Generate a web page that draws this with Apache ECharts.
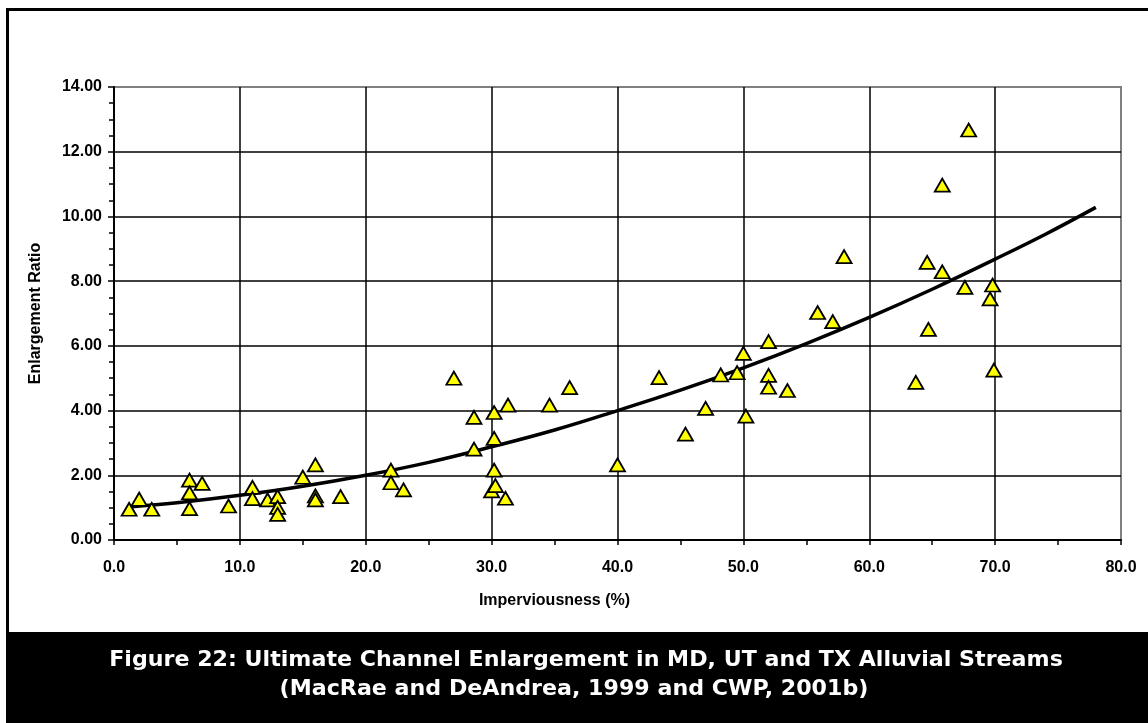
<!DOCTYPE html>
<html>
<head>
<meta charset="utf-8">
<script src="https://cdn.jsdelivr.net/npm/echarts@6/dist/echarts.min.js"></script>
<style>
  html, body { margin: 0; padding: 0; background: #ffffff; }
  #chart { width: 1148px; height: 723px; }
</style>
</head>
<body>
<div id="chart"></div>
<script>
// Observed stream sites: imperviousness (%) and enlargement ratio
const imperviousness = [
  1.2, 2.0, 3.0, 6.0, 6.0, 6.0, 7.0, 9.1, 11.0, 11.0,
  12.2, 13.0, 13.0, 13.0, 15.0, 16.0, 16.0, 16.0, 18.0, 22.0,
  22.0, 23.0, 27.0, 28.6, 28.6, 30.2, 30.2, 30.2, 30.0, 30.3,
  31.1, 31.3, 34.6, 36.2, 40.0, 43.3, 45.4, 47.0, 48.2, 49.5,
  50.0, 50.2, 52.0, 52.0, 52.0, 53.5, 55.9, 57.1, 58.0, 63.7,
  64.6, 64.7, 65.8, 65.8, 67.6, 67.9, 69.6, 69.8, 69.9
];
const enlargementRatio = [
  0.95, 1.26, 0.95, 1.85, 1.46, 0.97, 1.75, 1.05, 1.63, 1.28,
  1.24, 1.34, 1.01, 0.79, 1.94, 2.32, 1.36, 1.24, 1.34, 2.16,
  1.77, 1.55, 5.00, 3.79, 2.81, 3.94, 3.14, 2.16, 1.52, 1.68,
  1.29, 4.17, 4.17, 4.71, 2.32, 5.02, 3.27, 4.07, 5.10, 5.17,
  5.77, 3.83, 6.13, 5.09, 4.72, 4.62, 7.03, 6.75, 8.76, 4.87,
  8.58, 6.51, 10.97, 8.29, 7.81, 12.67, 7.45, 7.88, 5.25
];
// Trend curve
const trendX = [1.2, 5, 10, 15, 20, 25, 30, 35, 40, 45, 50, 55, 60, 65, 70, 74, 78];
const trendY = [1.02, 1.15, 1.38, 1.66, 2.0, 2.4, 2.88, 3.4, 4.0, 4.63, 5.32, 6.07, 6.88, 7.75, 8.68, 9.45, 10.28];

const yTicks = [0, 2, 4, 6, 8, 10, 12, 14];
const xTicks = [0, 10, 20, 30, 40, 50, 60, 70, 80];

const titleLine1 = 'Figure 22: Ultimate Channel Enlargement in MD, UT and TX Alluvial Streams';
const titleLine2 = '(MacRae and DeAndrea, 1999 and CWP, 2001b)';

const points = imperviousness.map((x, i) => [x, enlargementRatio[i]]);
const trend = trendX.map((x, i) => [x, trendY[i]]);

const chart = echarts.init(document.getElementById('chart'), null, { renderer: 'canvas' });
const labelFont = { fontFamily: '"Liberation Sans", Arial, sans-serif', fontWeight: 'bold', fontSize: 16, color: '#000' };

chart.setOption({
  backgroundColor: '#ffffff',
  animation: false,
  grid: {
    left: 114, right: 27, top: 87, bottom: 183,
    show: true, backgroundColor: '#ffffff', borderColor: '#808080', borderWidth: 2
  },
  xAxis: {
    type: 'value',
    min: xTicks[0], max: xTicks[xTicks.length - 1], interval: 10,
    name: 'Imperviousness (%)',
    nameLocation: 'middle',
    nameGap: 53,
    nameTextStyle: Object.assign({}, labelFont, { padding: [0, 126, 0, 0] }),
    axisLine: { show: true, onZero: false, lineStyle: { color: '#000', width: 2 } },
    axisTick: { show: true, length: 5, lineStyle: { color: '#000', width: 1.5 } },
    minorTick: { show: true, splitNumber: 2, length: 5, lineStyle: { color: '#000', width: 1.5 } },
    axisLabel: Object.assign({}, labelFont, { margin: 20, formatter: v => v.toFixed(1) }),
    splitLine: { show: true, showMinLine: false, showMaxLine: false, lineStyle: { color: '#000', width: 1.5 } }
  },
  yAxis: {
    type: 'value',
    min: yTicks[0], max: yTicks[yTicks.length - 1], interval: 2,
    name: 'Enlargement Ratio',
    nameLocation: 'middle',
    nameGap: 70,
    nameTextStyle: labelFont,
    axisLine: { show: true, onZero: false, lineStyle: { color: '#000', width: 2 } },
    axisTick: { show: true, length: 6, lineStyle: { color: '#000', width: 1.5 } },
    minorTick: { show: true, splitNumber: 4, length: 5, lineStyle: { color: '#000', width: 1.5 } },
    axisLabel: Object.assign({}, labelFont, { margin: 12, formatter: v => v.toFixed(2) }),
    splitLine: { show: true, showMinLine: false, showMaxLine: false, lineStyle: { color: '#000', width: 1.5 } }
  },
  series: [
    {
      type: 'line',
      data: trend,
      smooth: 0.4,
      showSymbol: false,
      symbol: 'none',
      lineStyle: { color: '#000', width: 3.5 },
      z: 3,
      silent: true
    },
    {
      type: 'scatter',
      data: points,
      symbol: 'triangle',
      symbolSize: [15, 13],
      itemStyle: { color: '#ffff00', borderColor: '#000', borderWidth: 1.8, opacity: 1 },
      z: 4
    }
  ],
  graphic: [
    {
      type: 'rect', silent: true, z: 100,
      shape: { x: 7.5, y: 9.5, width: 1160, height: 640 },
      style: { fill: 'none', stroke: '#000', lineWidth: 3 }
    },
    {
      type: 'rect', silent: true, z: 101,
      shape: { x: 6, y: 632, width: 1142, height: 91 },
      style: { fill: '#000' }
    },
    {
      type: 'text', silent: true, z: 102,
      x: 586, y: 661, scaleX: 1.055,
      style: { text: titleLine1, fill: '#fff', font: 'bold 21px "DejaVu Sans", sans-serif', align: 'center', verticalAlign: 'middle' }
    },
    {
      type: 'text', silent: true, z: 102,
      x: 574, y: 690, scaleX: 1.055,
      style: { text: titleLine2, fill: '#fff', font: 'bold 21px "DejaVu Sans", sans-serif', align: 'center', verticalAlign: 'middle' }
    }
  ]
});
</script>
</body>
</html>
